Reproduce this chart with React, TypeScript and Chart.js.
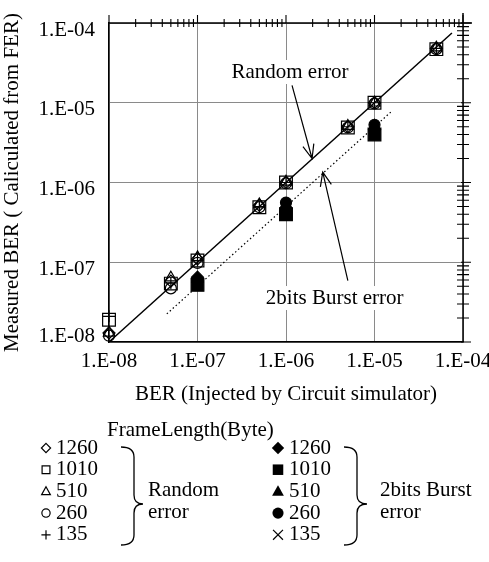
import React, { useEffect, useRef } from 'react';
import { Chart, registerables } from 'chart.js';

Chart.register(...registerables);

const FONT = "'Liberation Serif', 'Times New Roman', serif";

// Axis ticks
const tickValues = [1e-8, 1e-7, 1e-6, 1e-5, 1e-4];
const xTickLabels = ['1.E-08', '1.E-07', '1.E-06', '1.E-05', '1.E-04'];
const yTickLabels = ['1.E-08', '1.E-07', '1.E-06', '1.E-05', '1.E-04'];
const minorMultipliers = [2, 3, 4, 5, 6, 7, 8, 9];

// Random error (open markers)
const injectedBER = [1e-8, 5e-8, 1e-7, 5e-7, 1e-6, 5e-6, 1e-5, 5e-5];
const random1260 = [1.3e-8, 5.8e-8, 1.1e-7, 5.2e-7, 1.0e-6, 5.0e-6, 1.0e-5, 4.8e-5];
const random1010 = [1.9e-8, 5.4e-8, 1.05e-7, 4.9e-7, 1.0e-6, 4.9e-6, 1.0e-5, 4.7e-5];
const random510 = [1.3e-8, 6.4e-8, 1.15e-7, 5.3e-7, 1.02e-6, 5.1e-6, 1.0e-5, 4.9e-5];
const random260 = [1.2e-8, 4.7e-8, 0.98e-7, 4.9e-7, 0.98e-6, 4.9e-6, 0.98e-5, 4.7e-5];
const random135 = [2.1e-8, 5.5e-8, 1.05e-7, 5.0e-7, 1.0e-6, 5.0e-6, 1.0e-5, 4.8e-5];

// 2bits burst error (filled markers)
const burstBER = [1e-7, 1e-6, 1e-5];
const burst1260 = [6.5e-8, 4.8e-7, 4.6e-6];
const burst1010 = [5.2e-8, 4.0e-7, 4.0e-6];
const burst510 = [6.2e-8, 5.3e-7, 5.1e-6];
const burst260 = [6.0e-8, 5.6e-7, 5.3e-6];
const burst135 = [5.5e-8, 4.4e-7, 4.4e-6];

// Reference lines
const randomLineX = [1e-8, 7.5e-5];
const randomLineY = [1e-8, 7.5e-5];
const burstLineX = [4.5e-8, 1.6e-5];
const burstLineY = [2.25e-8, 8e-6];

// Annotations (data coordinates)
const randomLabel = { text: 'Random error', x: 1.11e-6, y: 2.43e-5 };
const randomArrow = { x0: 1.17e-6, y0: 1.65e-5, x1: 1.97e-6, y1: 2.0e-6 };
const burstLabel = { text: '2bits Burst error', x: 3.55e-6, y: 3.56e-8 };
const burstArrow = { x0: 5.0e-6, y0: 5.9e-8, x1: 2.6e-6, y1: 1.35e-6 };

// Legend
const frameLengths = ['1260', '1010', '510', '260', '135'];
const legendTitle = 'FrameLength(Byte)';
const randomGroup = ['Random', 'error'];
const burstGroup = ['2bits Burst', 'error'];

const pts = (xs: number[], ys: number[]) => xs.map((x, i) => ({ x, y: ys[i] }));

function drawSymbol(ctx: CanvasRenderingContext2D, kind: string, x: number, y: number, s: number, filled: boolean) {
  ctx.save();
  ctx.beginPath();
  ctx.lineWidth = 1.2;
  ctx.strokeStyle = '#000';
  ctx.fillStyle = '#000';
  if (kind === 'diamond') {
    ctx.moveTo(x, y - s); ctx.lineTo(x + s, y); ctx.lineTo(x, y + s); ctx.lineTo(x - s, y); ctx.closePath();
  } else if (kind === 'square') {
    ctx.rect(x - s * 0.85, y - s * 0.85, s * 1.7, s * 1.7);
  } else if (kind === 'triangle') {
    ctx.moveTo(x, y - s); ctx.lineTo(x + s * 0.95, y + s * 0.7); ctx.lineTo(x - s * 0.95, y + s * 0.7); ctx.closePath();
  } else if (kind === 'circle') {
    ctx.arc(x, y, s * 0.9, 0, Math.PI * 2);
  } else if (kind === 'plus') {
    ctx.moveTo(x - s, y); ctx.lineTo(x + s, y); ctx.moveTo(x, y - s); ctx.lineTo(x, y + s);
    ctx.stroke(); ctx.restore(); return;
  } else if (kind === 'cross') {
    const d = s * 0.8;
    ctx.moveTo(x - d, y - d); ctx.lineTo(x + d, y + d); ctx.moveTo(x + d, y - d); ctx.lineTo(x - d, y + d);
    ctx.stroke(); ctx.restore(); return;
  }
  if (filled) ctx.fill(); else ctx.stroke();
  ctx.restore();
}

function drawBrace(ctx: CanvasRenderingContext2D, x0: number, x1: number, x2: number, yTop: number, yMid: number, yBot: number) {
  ctx.save();
  ctx.beginPath();
  ctx.lineWidth = 1.3;
  ctx.strokeStyle = '#000';
  ctx.moveTo(x0, yTop);
  ctx.quadraticCurveTo(x1, yTop, x1, yTop + 10);
  ctx.lineTo(x1, yMid - 9);
  ctx.quadraticCurveTo(x1, yMid, x2, yMid);
  ctx.quadraticCurveTo(x1, yMid, x1, yMid + 9);
  ctx.lineTo(x1, yBot - 10);
  ctx.quadraticCurveTo(x1, yBot, x0, yBot);
  ctx.stroke();
  ctx.restore();
}

function drawArrow(ctx: CanvasRenderingContext2D, ax: number, ay: number, bx: number, by: number) {
  ctx.save();
  ctx.strokeStyle = '#000';
  ctx.lineWidth = 1.2;
  ctx.beginPath();
  ctx.moveTo(ax, ay);
  ctx.lineTo(bx, by);
  const ang = Math.atan2(ay - by, ax - bx);
  const len = 15;
  const spread = (22 * Math.PI) / 180;
  ctx.moveTo(bx + Math.cos(ang - spread) * len, by + Math.sin(ang - spread) * len);
  ctx.lineTo(bx, by);
  ctx.lineTo(bx + Math.cos(ang + spread) * len, by + Math.sin(ang + spread) * len);
  ctx.stroke();
  ctx.restore();
}

const decorations = {
  id: 'decorations',
  afterDraw(chart: any) {
    const ctx: CanvasRenderingContext2D = chart.ctx;
    const xs = chart.scales.x;
    const ys = chart.scales.y;
    const { left, right, top, bottom } = chart.chartArea;
    ctx.save();
    ctx.strokeStyle = '#000';

    // top & right borders
    ctx.lineWidth = 1.5;
    ctx.beginPath();
    ctx.moveTo(left, top); ctx.lineTo(right + 9, top);
    ctx.moveTo(right, top - 10); ctx.lineTo(right, bottom);
    ctx.stroke();

    // top minor/major ticks
    ctx.lineWidth = 1.1;
    ctx.beginPath();
    for (let d = 0; d < tickValues.length - 1; d++) {
      for (const m of minorMultipliers) {
        const px = xs.getPixelForValue(tickValues[d] * m);
        ctx.moveTo(px, top - 4); ctx.lineTo(px, top + 4);
      }
    }
    for (const v of tickValues) {
      const px = xs.getPixelForValue(v);
      ctx.moveTo(px, top - 8); ctx.lineTo(px, top);
    }
    // right minor/major ticks
    for (let d = 0; d < tickValues.length - 1; d++) {
      for (const m of minorMultipliers) {
        const py = ys.getPixelForValue(tickValues[d] * m);
        ctx.moveTo(right - 6, py); ctx.lineTo(right + 6, py);
      }
    }
    for (const v of tickValues) {
      const py = ys.getPixelForValue(v);
      ctx.moveTo(right - 2, py); ctx.lineTo(right + 8, py);
    }
    ctx.stroke();

    // annotations
    ctx.font = `21px ${FONT}`;
    ctx.textBaseline = 'middle';
    ctx.textAlign = 'center';
    for (const lab of [randomLabel, burstLabel]) {
      const px = xs.getPixelForValue(lab.x);
      const py = ys.getPixelForValue(lab.y);
      const w = ctx.measureText(lab.text).width;
      ctx.fillStyle = '#fff';
      ctx.fillRect(px - w / 2 - 3, py - 12, w + 6, 24);
      ctx.fillStyle = '#000';
      ctx.fillText(lab.text, px, py);
    }
    for (const a of [randomArrow, burstArrow]) {
      drawArrow(ctx, xs.getPixelForValue(a.x0), ys.getPixelForValue(a.y0), xs.getPixelForValue(a.x1), ys.getPixelForValue(a.y1));
    }

    // legend
    ctx.textAlign = 'left';
    ctx.fillStyle = '#000';
    ctx.fillText(legendTitle, 107, 430);
    const openKinds = ['diamond', 'square', 'triangle', 'circle', 'plus'];
    const filledKinds = ['diamond', 'square', 'triangle', 'circle', 'cross'];
    frameLengths.forEach((fl, i) => {
      const y = 448 + i * 21.7;
      drawSymbol(ctx, openKinds[i], 46, y, 4.6, false);
      ctx.fillStyle = '#000';
      ctx.fillText(fl, 56, y);
      drawSymbol(ctx, filledKinds[i], 278, y, 6.2, true);
      ctx.fillStyle = '#000';
      ctx.fillText(fl, 289, y);
    });
    drawBrace(ctx, 121, 134, 143, 447, 504, 545);
    drawBrace(ctx, 344, 357, 367, 447, 504, 545);
    ctx.fillText(randomGroup[0], 148, 490);
    ctx.fillText(randomGroup[1], 148, 512);
    ctx.fillText(burstGroup[0], 380, 490);
    ctx.fillText(burstGroup[1], 380, 512);
    ctx.restore();
  },
};

const openStyle = (label: string, data: any[], pointStyle: string, radius: number) => ({
  label,
  data,
  showLine: false,
  pointStyle,
  pointRadius: radius,
  borderColor: '#000',
  backgroundColor: 'rgba(255,255,255,0)',
  borderWidth: 1.2,
  clip: false,
});

const filledStyle = (label: string, data: any[], pointStyle: string, radius: number) => ({
  label,
  data,
  showLine: false,
  pointStyle,
  pointRadius: radius,
  borderColor: '#000',
  backgroundColor: '#000',
  borderWidth: 1.2,
  clip: false,
});

export default function App() {
  const ref = useRef<HTMLCanvasElement | null>(null);

  useEffect(() => {
    document.body.style.margin = '0';
    if (!ref.current) return;
    const chart = new Chart(ref.current, {
      type: 'scatter',
      data: {
        datasets: [
          {
            label: 'Random error line',
            data: pts(randomLineX, randomLineY),
            showLine: true,
            borderColor: '#000',
            borderWidth: 1.5,
            pointRadius: 0,
            clip: false,
          } as any,
          {
            label: '2bits Burst error line',
            data: pts(burstLineX, burstLineY),
            showLine: true,
            borderColor: '#000',
            borderWidth: 1.2,
            borderDash: [1.5, 2.5],
            pointRadius: 0,
          } as any,
          openStyle('Random 1260', pts(injectedBER, random1260), 'rectRot', 6),
          openStyle('Random 1010', pts(injectedBER, random1010), 'rect', 9),
          openStyle('Random 510', pts(injectedBER, random510), 'triangle', 6.5),
          openStyle('Random 260', pts(injectedBER, random260), 'circle', 5.5),
          openStyle('Random 135', pts(injectedBER, random135), 'cross', 6),
          filledStyle('Burst 1260', pts(burstBER, burst1260), 'rectRot', 6),
          filledStyle('Burst 1010', pts(burstBER, burst1010), 'rect', 9),
          filledStyle('Burst 510', pts(burstBER, burst510), 'triangle', 6.5),
          filledStyle('Burst 260', pts(burstBER, burst260), 'circle', 5.5),
          filledStyle('Burst 135', pts(burstBER, burst135), 'crossRot', 6),
        ],
      },
      options: {
        animation: false,
        responsive: false,
        devicePixelRatio: 1,
        events: [],
        layout: { padding: { left: 0, right: 26, top: 23, bottom: 154 } },
        plugins: { legend: { display: false }, tooltip: { enabled: false } },
        scales: {
          x: {
            type: 'logarithmic',
            position: 'bottom',
            min: 1e-8,
            max: 1e-4,
            afterBuildTicks: (s: any) => {
              s.ticks = tickValues.map((v) => ({ value: v }));
            },
            afterFit: (s: any) => {
              s.height = 66;
              s.paddingLeft = 0;
              s.paddingRight = 0;
            },
            grid: { color: '#8a8a8a', lineWidth: 1, drawTicks: false },
            border: { color: '#000', width: 1.5 },
            ticks: {
              autoSkip: false,
              maxRotation: 0,
              minRotation: 0,
              padding: 7,
              color: '#000',
              font: { family: FONT, size: 21 },
              callback: (_v: any, i: number) => xTickLabels[i],
            },
            title: {
              display: true,
              text: 'BER (Injected by Circuit simulator)',
              color: '#000',
              font: { family: FONT, size: 21 },
              padding: { top: 0, bottom: 1 },
            },
          },
          y: {
            type: 'logarithmic',
            position: 'left',
            min: 1e-8,
            max: 1e-4,
            afterBuildTicks: (s: any) => {
              s.ticks = tickValues.map((v) => ({ value: v }));
            },
            afterFit: (s: any) => {
              s.width = 109;
              s.paddingTop = 0;
              s.paddingBottom = 0;
            },
            grid: { color: '#8a8a8a', lineWidth: 1, drawTicks: false },
            border: { color: '#000', width: 1.5 },
            ticks: {
              autoSkip: false,
              padding: 14,
              labelOffset: 7,
              color: '#000',
              font: { family: FONT, size: 21 },
              callback: (_v: any, i: number) => (i === 0 ? [yTickLabels[0], ''] : yTickLabels[i]),
            },
            title: {
              display: true,
              text: 'Measured BER ( Caliculated from FER)',
              color: '#000',
              font: { family: FONT, size: 21 },
              padding: { top: 0, bottom: 0 },
            },
          },
        },
      },
      plugins: [decorations],
    } as any);
    return () => chart.destroy();
  }, []);

  return (
    <div style={{ width: 489, height: 562 }}>
      <canvas ref={ref} width={489} height={562} style={{ display: 'block' }} />
    </div>
  );
}
